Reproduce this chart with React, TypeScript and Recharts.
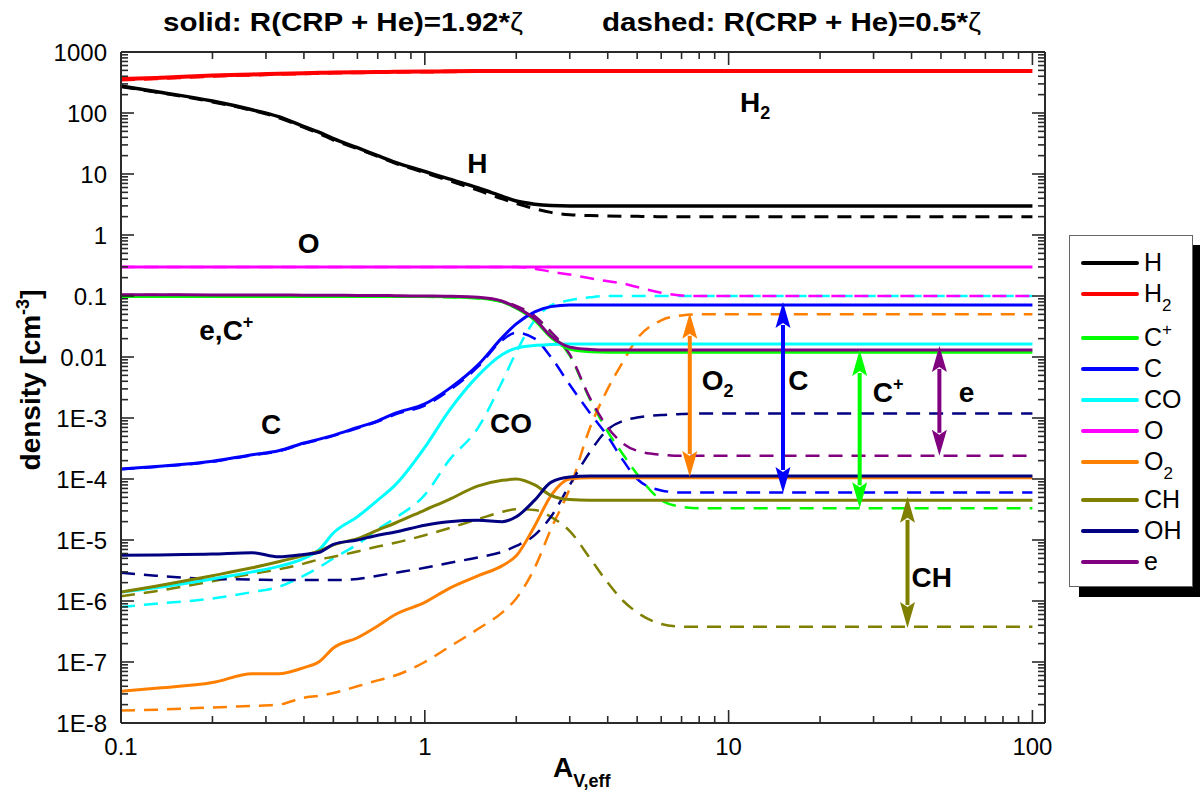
import React from "react";
import { LineChart, Line, XAxis, YAxis, ReferenceLine, ReferenceDot } from "recharts";

const FONT = '"Liberation Sans", Arial, Helvetica, sans-serif';
const AXIS = "#2a2a2a";

// A_V,eff grid shared by every species
const av = [0.1, 0.13, 0.2, 0.27, 0.33, 0.4, 0.45, 0.5, 0.6, 0.7, 0.8, 1, 1.2, 1.5, 1.8, 2, 2.3, 2.6, 3, 3.5, 4, 4.5, 5, 6, 7, 8, 10, 30, 100];

// densities [cm^-3], solid = 1.92*zeta, dashed = 0.5*zeta
const hSolid = [277, 225, 157, 113, 87, 60, 48, 38, 27, 20, 15.5, 11, 8.3, 5.9, 4.3, 3.6, 3.2, 3.05, 3.0, 3.0, 3.0, 3.0, 3.0, 3.0, 3.0, 3.0, 3.0, 3.0, 3.0];
const hDashed = [270, 220, 152, 110, 84, 58, 46, 36, 26, 19.5, 15, 10.5, 7.8, 5.4, 3.9, 3.3, 2.7, 2.35, 2.15, 2.08, 2.05, 2.03, 2.02, 2.0, 2.0, 2.0, 2.0, 2.0, 2.0];
const h2Solid = [360, 375, 410, 428, 440, 450, 455, 460, 466, 470, 473, 478, 482, 486, 488, 489, 490, 490, 490, 490, 490, 490, 490, 490, 490, 490, 490, 490, 490];
const h2Dashed = [350, 368, 403, 422, 434, 445, 450, 455, 461, 466, 470, 475, 479, 483, 486, 487, 488, 488, 488, 488, 488, 488, 488, 488, 488, 488, 488, 488, 488];
const cpSolid = [0.098, 0.098, 0.098, 0.098, 0.098, 0.098, 0.098, 0.098, 0.098, 0.098, 0.098, 0.098, 0.097, 0.093, 0.08, 0.063, 0.04, 0.021, 0.0135, 0.0122, 0.012, 0.012, 0.012, 0.012, 0.012, 0.012, 0.012, 0.012, 0.012];
const cpDashed = [0.097, 0.097, 0.097, 0.097, 0.097, 0.097, 0.097, 0.097, 0.097, 0.097, 0.097, 0.097, 0.095, 0.091, 0.08, 0.067, 0.046, 0.025, 0.0105, 0.002, 0.0006, 0.00025, 0.00012, 0.000045, 0.000035, 0.000033, 0.000033, 0.000033, 0.000033];
const cSolid = [1.46e-4, 1.6e-4, 1.95e-4, 2.5e-4, 2.9e-4, 3.9e-4, 4.5e-4, 5.2e-4, 7e-4, 9e-4, 1.2e-3, 1.7e-3, 3e-3, 7.5e-3, 2.1e-2, 3.5e-2, 5.5e-2, 6.7e-2, 7.1e-2, 7.1e-2, 7.1e-2, 7.1e-2, 7.1e-2, 7.1e-2, 7.1e-2, 7.1e-2, 7.1e-2, 7.1e-2, 7.1e-2];
const cDashed = [1.45e-4, 1.58e-4, 1.92e-4, 2.45e-4, 2.85e-4, 3.8e-4, 4.4e-4, 5.1e-4, 6.8e-4, 8.7e-4, 1.15e-3, 1.6e-3, 2.8e-3, 7e-3, 1.9e-2, 2.5e-2, 2e-2, 1e-2, 3.5e-3, 1.2e-3, 5e-4, 2e-4, 1e-4, 6.5e-5, 6e-5, 6e-5, 6e-5, 6e-5, 6e-5];
const coSolid = [1.4e-6, 1.65e-6, 2.3e-6, 3e-6, 3.7e-6, 5e-6, 7e-6, 1.3e-5, 2.4e-5, 4.5e-5, 8e-5, 3.3e-4, 1.3e-3, 5e-3, 1.1e-2, 1.4e-2, 1.55e-2, 1.6e-2, 1.63e-2, 1.63e-2, 1.63e-2, 1.63e-2, 1.63e-2, 1.63e-2, 1.63e-2, 1.63e-2, 1.63e-2, 1.63e-2, 1.63e-2];
const coDashed = [8e-7, 9e-7, 1.1e-6, 1.4e-6, 1.7e-6, 2.6e-6, 3.6e-6, 5e-6, 8.5e-6, 1.5e-5, 2.3e-5, 5.5e-5, 2e-4, 7e-4, 4e-3, 1.2e-2, 4e-2, 7e-2, 8.5e-2, 9.5e-2, 0.1, 0.1, 0.1, 0.1, 0.1, 0.1, 0.1, 0.1, 0.1];
const oSolid = [0.3, 0.3, 0.3, 0.3, 0.3, 0.3, 0.3, 0.3, 0.3, 0.3, 0.3, 0.3, 0.3, 0.3, 0.3, 0.3, 0.3, 0.3, 0.3, 0.3, 0.3, 0.3, 0.3, 0.3, 0.3, 0.3, 0.3, 0.3, 0.3];
const oDashed = [0.3, 0.3, 0.3, 0.3, 0.3, 0.3, 0.3, 0.3, 0.3, 0.3, 0.3, 0.3, 0.3, 0.3, 0.3, 0.3, 0.28, 0.25, 0.225, 0.195, 0.175, 0.16, 0.14, 0.113, 0.102, 0.1, 0.1, 0.1, 0.1];
const o2Solid = [3.3e-8, 3.7e-8, 4.6e-8, 6.4e-8, 6.4e-8, 8.1e-8, 1.02e-7, 1.7e-7, 2.5e-7, 3.9e-7, 6e-7, 9.5e-7, 1.6e-6, 2.6e-6, 3.8e-6, 5.5e-6, 1.7e-5, 5.3e-5, 1.0e-4, 1.05e-4, 1.05e-4, 1.05e-4, 1.05e-4, 1.05e-4, 1.05e-4, 1.05e-4, 1.05e-4, 1.05e-4, 1.05e-4];
const o2Dashed = [1.6e-8, 1.65e-8, 1.8e-8, 1.9e-8, 2e-8, 2.6e-8, 2.8e-8, 3.1e-8, 4e-8, 5e-8, 6e-8, 1e-7, 1.75e-7, 3.5e-7, 6.5e-7, 1.1e-6, 3.5e-6, 1.5e-5, 7e-5, 7e-4, 3e-3, 8.5e-3, 2e-2, 4e-2, 4.8e-2, 5e-2, 5e-2, 5e-2, 5e-2];
const chSolid = [1.4e-6, 1.75e-6, 2.6e-6, 3.5e-6, 4.4e-6, 5.6e-6, 6.6e-6, 8.3e-6, 1.05e-5, 1.45e-5, 1.9e-5, 3.1e-5, 4.6e-5, 7.7e-5, 9.5e-5, 1e-4, 8e-5, 5.4e-5, 4.6e-5, 4.5e-5, 4.5e-5, 4.5e-5, 4.5e-5, 4.5e-5, 4.5e-5, 4.5e-5, 4.5e-5, 4.5e-5, 4.5e-5];
const chDashed = [1.2e-6, 1.45e-6, 2.1e-6, 2.8e-6, 3.3e-6, 4.1e-6, 4.8e-6, 5.3e-6, 6.5e-6, 7.8e-6, 9e-6, 1.2e-5, 1.56e-5, 2.2e-5, 2.9e-5, 3.2e-5, 3.1e-5, 2.4e-5, 1.4e-5, 5e-6, 2e-6, 1e-6, 6.5e-7, 4.2e-7, 3.8e-7, 3.8e-7, 3.8e-7, 3.8e-7, 3.8e-7];
const ohSolid = [5.6e-6, 5.7e-6, 5.9e-6, 6.2e-6, 5.3e-6, 5.8e-6, 6.3e-6, 8.5e-6, 1e-5, 1.2e-5, 1.35e-5, 1.75e-5, 2e-5, 2.1e-5, 2e-5, 2.4e-5, 4.5e-5, 8.8e-5, 1.08e-4, 1.12e-4, 1.12e-4, 1.12e-4, 1.12e-4, 1.12e-4, 1.12e-4, 1.12e-4, 1.12e-4, 1.12e-4, 1.12e-4];
const ohDashed = [2.9e-6, 2.6e-6, 2.3e-6, 2.25e-6, 2.2e-6, 2.2e-6, 2.2e-6, 2.2e-6, 2.3e-6, 2.6e-6, 2.9e-6, 3.5e-6, 4.2e-6, 5.2e-6, 6.4e-6, 8e-6, 1.2e-5, 2.4e-5, 8e-5, 2.8e-4, 6.5e-4, 9e-4, 1.02e-3, 1.12e-3, 1.16e-3, 1.18e-3, 1.18e-3, 1.18e-3, 1.18e-3];
const eSolid = [0.105, 0.105, 0.104, 0.104, 0.104, 0.103, 0.103, 0.103, 0.102, 0.102, 0.101, 0.1, 0.099, 0.095, 0.082, 0.065, 0.042, 0.022, 0.0145, 0.0133, 0.013, 0.013, 0.013, 0.013, 0.013, 0.013, 0.013, 0.013, 0.013];
const eDashed = [0.104, 0.104, 0.103, 0.103, 0.103, 0.102, 0.102, 0.102, 0.101, 0.101, 0.1, 0.099, 0.098, 0.094, 0.082, 0.069, 0.047, 0.026, 0.011, 0.0021, 0.0007, 0.00038, 0.00029, 0.00025, 0.00024, 0.00024, 0.00024, 0.00024, 0.00024];

const species = [
  { key: "H", name: "H", color: "#000000", solid: hSolid, dashed: hDashed, w: 3.5 },
  { key: "H2", name: "H", sub: "2", color: "#ff0000", solid: h2Solid, dashed: h2Dashed, w: 4 },
  { key: "Cp", name: "C", sup: "+", color: "#00ff00", solid: cpSolid, dashed: cpDashed, w: 3 },
  { key: "C", name: "C", color: "#0000ff", solid: cSolid, dashed: cDashed, w: 3 },
  { key: "CO", name: "CO", color: "#00ffff", solid: coSolid, dashed: coDashed, w: 3 },
  { key: "O", name: "O", color: "#ff00ff", solid: oSolid, dashed: oDashed, w: 3 },
  { key: "O2", name: "O", sub: "2", color: "#ff8000", solid: o2Solid, dashed: o2Dashed, w: 3 },
  { key: "CH", name: "CH", color: "#808000", solid: chSolid, dashed: chDashed, w: 3 },
  { key: "OH", name: "OH", color: "#000080", solid: ohSolid, dashed: ohDashed, w: 3 },
  { key: "e", name: "e", color: "#800080", solid: eSolid, dashed: eDashed, w: 3 },
];

const rows = av.map((x, i) => {
  const r: any = { x };
  species.forEach((s) => {
    r[s.key + "_s"] = s.solid[i];
    r[s.key + "_d"] = s.dashed[i];
  });
  return r;
});

// double arrows: solid vs dashed plateau
const arrowAv = [7.45, 15.1, 27, 38.8, 49.4];
const arrowTop = [0.053, 0.08, 0.013, 5.1e-5, 0.0152];
const arrowBottom = [1.08e-4, 5.9e-5, 3.3e-5, 3.6e-7, 2.4e-4];
const arrowColor = ["#ff8000", "#0000ff", "#00ff00", "#808000", "#800080"];

// in-plot labels (left edge, baseline)
const annText = ["H", "H", "O", "e,C", "C", "CO", "O", "C", "C", "e", "CH"];
const annSub = ["2", "", "", "", "", "", "2", "", "", "", ""];
const annSup = ["", "", "", "+", "", "", "", "", "+", "", ""];
const annX = [10.9, 1.38, 0.382, 0.181, 0.289, 1.64, 8.15, 15.7, 29.8, 57.2, 40];
const annY = [104, 10.4, 0.507, 0.019, 5.5e-4, 5.7e-4, 2.9e-3, 2.9e-3, 1.83e-3, 1.8e-3, 1.7e-6];

const xMajor = [0.1, 1, 10, 100];
const xMajorLabels = ["0.1", "1", "10", "100"];
const yMajor = [1e-8, 1e-7, 1e-6, 1e-5, 1e-4, 1e-3, 0.01, 0.1, 1, 10, 100, 1000];
const yMajorLabels = ["1E-8", "1E-7", "1E-6", "1E-5", "1E-4", "1E-3", "0.01", "0.1", "1", "10", "100", "1000"];
const minorSteps = [2, 3, 4, 5, 6, 7, 8, 9];

const xTicks = [...xMajor, ...xMajor.slice(0, 3).flatMap((d) => minorSteps.map((k) => k * d))];
const yTicks = [...yMajor, ...yMajor.slice(0, 11).flatMap((d) => minorSteps.map((k) => k * d))];

const decade = (v: number) => Math.round(Math.log10(v));
const isMajor = (v: number) => Math.abs(Math.log10(v) - decade(v)) < 1e-6;
const labelFor = (v: number, majors: number[], labels: string[]) => {
  const i = majors.findIndex((m) => decade(m) === decade(v));
  return i >= 0 ? labels[i] : "";
};

function AxisTick(props: any) {
  const { x, y, payload, side } = props;
  const v = payload.value;
  const major = isMajor(v);
  const len = major ? 13 : 7;
  let c = [x, y, x, y - len];
  if (side === "top") c = [x, y, x, y + len];
  if (side === "left") c = [x, y, x + len, y];
  if (side === "right") c = [x, y, x - len, y];
  return (
    <g>
      <line x1={c[0]} y1={c[1]} x2={c[2]} y2={c[3]} stroke={AXIS} strokeWidth={1.6} />
      {major && side === "bottom" && (
        <text x={x} y={y + 32} textAnchor="middle" fontFamily={FONT} fontSize={24} fill="#000">
          {labelFor(v, xMajor, xMajorLabels)}
        </text>
      )}
      {major && side === "left" && (
        <text x={x - 14} y={y + 8.5} textAnchor="end" fontFamily={FONT} fontSize={24} fill="#000">
          {labelFor(v, yMajor, yMajorLabels)}
        </text>
      )}
    </g>
  );
}

function DoubleArrow(props: any) {
  const { x1, y1, y2, color } = props;
  const top = Math.min(y1, y2);
  const bot = Math.max(y1, y2);
  const hw = 7.5;
  const hl = 26;
  return (
    <g>
      <line x1={x1} y1={top + hl - 3} x2={x1} y2={bot - hl + 3} stroke={color} strokeWidth={4} />
      <polygon points={`${x1},${top} ${x1 - hw},${top + hl} ${x1},${top + hl - 5} ${x1 + hw},${top + hl}`} fill={color} />
      <polygon points={`${x1},${bot} ${x1 - hw},${bot - hl} ${x1},${bot - hl + 5} ${x1 + hw},${bot - hl}`} fill={color} />
    </g>
  );
}

function Annotation(props: any) {
  const { cx, cy, text, sub, sup } = props;
  return (
    <text x={cx} y={cy} fontFamily={FONT} fontWeight="bold" fontSize={28} fill="#000">
      {text}
      {sub ? <tspan fontSize={18} dy={7}>{sub}</tspan> : null}
      {sup ? <tspan fontSize={18} dy={-12}>{sup}</tspan> : null}
    </text>
  );
}

function LegendBox() {
  const gapBefore: Record<string, number> = { Cp: 13, CH: 7 };
  return (
    <div
      style={{
        position: "absolute", left: 1069, top: 235, width: 124, height: 352, boxSizing: "border-box",
        border: "1px solid #666", background: "#fff", boxShadow: "10px 10px 0 #000",
        fontFamily: FONT, paddingTop: 11,
      }}
    >
      {species.map((s) => (
        <div key={s.key} style={{ height: 31, marginTop: gapBefore[s.key] || 0, position: "relative" }}>
          <div style={{ position: "absolute", left: 11, top: 13.5, width: 58, height: 4, borderRadius: 2, background: s.color }} />
          <div style={{ position: "absolute", left: 74, top: 0, height: 31, lineHeight: "31px", fontSize: 25, whiteSpace: "nowrap" }}>
            {s.name}
            {s.sub ? <span style={{ fontSize: 17, position: "relative", top: 9 }}>{s.sub}</span> : null}
            {s.sup ? <span style={{ fontSize: 17, position: "relative", top: -11 }}>{s.sup}</span> : null}
          </div>
        </div>
      ))}
    </div>
  );
}

// axis boxes: plot area spans x 121..1045, y 52..723
const AX_H = 20;
const AX_W = 20;

export default function App() {
  return (
    <div style={{ position: "absolute", left: 0, top: 0, width: 1200, height: 794, background: "#fff", overflow: "hidden" }}>
      <LineChart
        width={1200} height={794} data={rows}
        margin={{ top: 52 - AX_H, right: 155 - AX_W, bottom: 71 - AX_H, left: 121 - AX_W }}
      >
        <XAxis
          dataKey="x" type="number" scale="log" domain={[0.1, 110]} allowDataOverflow ticks={xTicks} interval={0}
          height={AX_H} tickSize={0} tickMargin={0} tickLine={false} axisLine={{ stroke: AXIS, strokeWidth: 2 }}
          tick={<AxisTick side="bottom" />}
        />
        <XAxis
          xAxisId="top" orientation="top" dataKey="x" type="number" scale="log" domain={[0.1, 110]} allowDataOverflow
          ticks={xTicks} interval={0} height={AX_H} tickSize={0} tickMargin={0} tickLine={false}
          axisLine={{ stroke: AXIS, strokeWidth: 2 }} tick={<AxisTick side="top" />}
        />
        <YAxis
          type="number" scale="log" domain={[1e-8, 1000]} allowDataOverflow ticks={yTicks} interval={0}
          width={AX_W} tickSize={0} tickMargin={0} tickLine={false} axisLine={{ stroke: AXIS, strokeWidth: 2 }}
          tick={<AxisTick side="left" />}
        />
        <YAxis
          yAxisId="right" orientation="right" type="number" scale="log" domain={[1e-8, 1000]} allowDataOverflow
          ticks={yTicks} interval={0} width={AX_W} tickSize={0} tickMargin={0} tickLine={false}
          axisLine={{ stroke: AXIS, strokeWidth: 2 }} tick={<AxisTick side="right" />}
        />

        {species.map((s) => (
          <Line
            key={s.key + "_d"} dataKey={s.key + "_d"} type="monotone" stroke={s.color} strokeWidth={s.w - 0.5}
            strokeDasharray="14 9" dot={false} activeDot={false} isAnimationActive={false}
          />
        ))}
        {species.map((s) => (
          <Line
            key={s.key + "_s"} dataKey={s.key + "_s"} type="monotone" stroke={s.color} strokeWidth={s.w}
            dot={false} activeDot={false} isAnimationActive={false}
          />
        ))}

        {arrowAv.map((ax, i) => (
          <ReferenceLine
            key={"arrow" + i}
            segment={[{ x: ax, y: arrowTop[i] }, { x: ax, y: arrowBottom[i] }]}
            shape={(p: any) => <DoubleArrow {...p} color={arrowColor[i]} />}
          />
        ))}
        {annText.map((t, i) => (
          <ReferenceDot
            key={"ann" + i} x={annX[i]} y={annY[i]} r={1}
            shape={(p: any) => <Annotation {...p} text={t} sub={annSub[i]} sup={annSup[i]} />}
          />
        ))}
      </LineChart>

      <svg width={1200} height={794} style={{ position: "absolute", left: 0, top: 0, pointerEvents: "none" }}>
        <text x={163} y={31} fontFamily={FONT} fontWeight="bold" fontSize={25} textLength={360} lengthAdjust="spacingAndGlyphs">
          solid: R(CRP + He)=1.92*<tspan fontWeight="normal">ζ</tspan>
        </text>
        <text x={602} y={31} fontFamily={FONT} fontWeight="bold" fontSize={25} textLength={379} lengthAdjust="spacingAndGlyphs">
          dashed: R(CRP + He)=0.5*<tspan fontWeight="normal">ζ</tspan>
        </text>
        <text transform="translate(40,380) rotate(-90)" textAnchor="middle" fontFamily={FONT} fontWeight="bold" fontSize={28}>
          density [cm<tspan fontSize={18} dy={-11}>-3</tspan><tspan dy={11}>]</tspan>
        </text>
        <text x={553} y={777} fontFamily={FONT} fontWeight="bold" fontSize={28}>
          A<tspan fontSize={18} dy={10}>V,eff</tspan>
        </text>
      </svg>
      <LegendBox />
    </div>
  );
}
